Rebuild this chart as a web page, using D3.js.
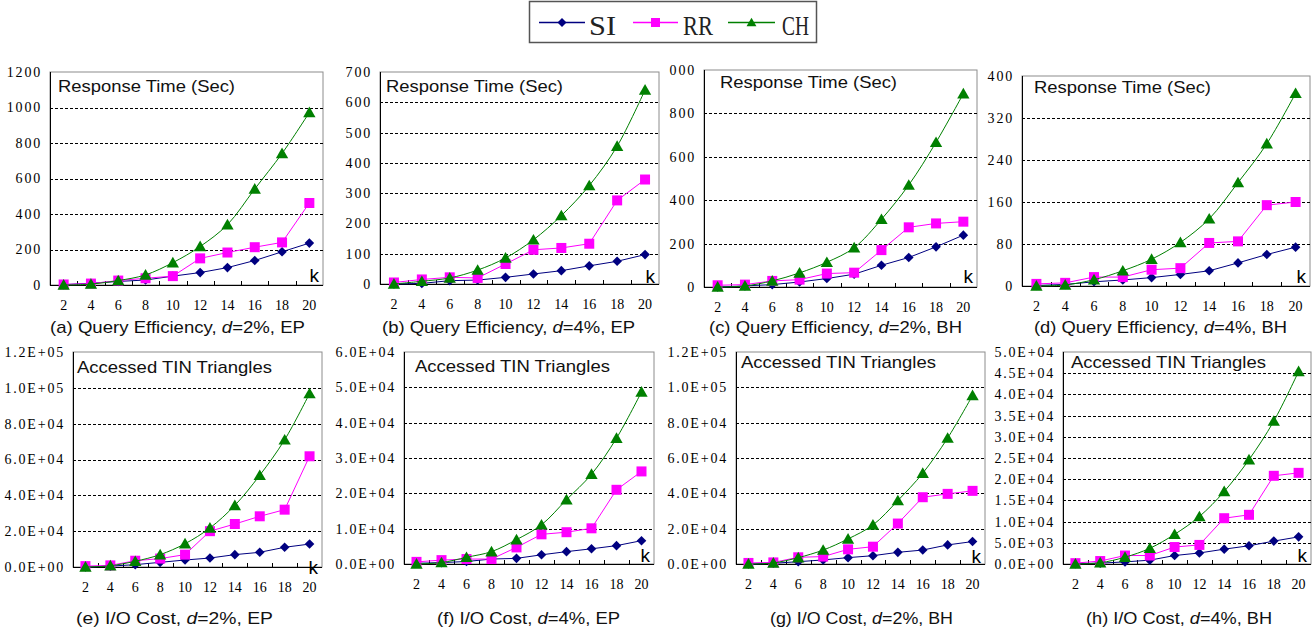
<!DOCTYPE html>
<html><head><meta charset="utf-8">
<script src="https://cdn.jsdelivr.net/npm/d3@7"></script>
<style>body{margin:0;background:#fff} svg{display:block}</style>
</head><body>
<script>
// ---------------- data ----------------
const ks = [2,4,6,8,10,12,14,16,18,20];
const seriesNames = ["SI","RR","CH"];

// (a) Query Efficiency, d=2%, EP
const aSI = [2,10,20,28,50,70,98,138,187,236];
const aRR = [3,8,25,38,50,150,183,213,240,462];
const aCH = [0,5,25,57,126,217,340,541,741,972];
const aTicks = [0,200,400,600,800,1000,1200];
// (b) Query Efficiency, d=4%, EP
const bSI = [0,2,11,13,22,33,44,60,75,97];
const bRR = [5,15,22,20,66,113,119,133,276,345];
const bCH = [0,9,20,46,86,146,226,325,455,641];
const bTicks = [0,100,200,300,400,500,600,700];
// (c) Query Efficiency, d=2%, BH
const cSI = [0,5,11,23,39,59,100,136,185,239];
const cRR = [8,11,28,34,62,66,170,275,293,301];
const cCH = [0,5,28,65,114,181,312,470,667,891];
const cTicks = [0,200,400,600,800,1000];
// (d) Query Efficiency, d=4%, BH
const dSI = [1,3,8,11.5,16,22,29,44,60,74];
const dRR = [4,6,17,17,31,34,82,85,154,160];
const dCH = [0,2,12,29,51,83,128,197,271,367];
const dTicks = [0,80,160,240,320,400];
// (e) I/O Cost, d=2%, EP
const eSI = [0,500,1300,2600,3900,5000,6900,8200,11000,12800];
const eRR = [500,900,3500,4700,6900,20000,24000,28300,32000,61800];
const eCH = [0,700,3200,6900,13000,21800,34400,51200,71000,96800];
const eTicks = [0,20000,40000,60000,80000,100000,120000];
// (f) I/O Cost, d=4%, EP
const fSI = [200,400,700,1400,1600,2600,3500,4300,5200,6600];
const fRR = [600,1100,1400,1400,4700,8400,9000,10100,21000,26200];
const fCH = [0,400,1900,3500,6900,11100,18200,25400,35600,48700];
const fTicks = [0,10000,20000,30000,40000,50000,60000];
// (g) I/O Cost, d=2%, BH
const gSI = [0,400,1300,2300,3600,4700,6600,7900,10800,12700];
const gRR = [600,900,3800,4200,8300,9800,22900,37800,39700,41400];
const gCH = [0,600,3600,7900,14200,22100,35900,51400,71300,95400];
const gTicks = [0,20000,40000,60000,80000,100000,120000];
// (h) I/O Cost, d=4%, BH
const hSI = [100,200,500,900,2000,2600,3500,4300,5400,6400];
const hRR = [200,700,2000,2000,4000,4500,10800,11600,20800,21500];
const hCH = [0,300,1600,3700,7000,11200,17100,24600,33700,45400];
const hTicks = [0,5000,10000,15000,20000,25000,30000,35000,40000,45000,50000];

const topTitle = "Response Time (Sec)";
const botTitle = "Accessed TIN Triangles";
const captionPre = ["(a) Query Efficiency, ","(b) Query Efficiency, ","(c) Query Efficiency, ","(d) Query Efficiency, ",
                    "(e) I/O Cost, ","(f) I/O Cost, ","(g) I/O Cost, ","(h) I/O Cost, "];
const captionPost = ["=2%, EP","=4%, EP","=2%, BH","=4%, BH","=2%, EP","=4%, EP","=2%, BH","=4%, BH"];

// ---------------- layout ----------------
const plain = v => String(v);
const sci = v => {
  if (v === 0) return "0.0E+00";
  const e = Math.floor(Math.log10(v) + 1e-9);
  const m = v / Math.pow(10, e);
  return m.toFixed(1) + "E+" + String(e).padStart(2, "0");
};
const panels = [
  {series:[aSI,aRR,aCH], ticks:aTicks, fmt:plain, l:50,  r:323,  t:72,  b:285, tx:58,   ty:92,  tl:177, cx:50,   cy:333, cl:255, kb:282},
  {series:[bSI,bRR,bCH], ticks:bTicks, fmt:plain, l:380, r:659,  t:72,  b:284, tx:386,  ty:92,  tl:177, cx:382,  cy:333, cl:253, kb:283},
  {series:[cSI,cRR,cCH], ticks:cTicks, fmt:plain, l:704, r:977,  t:70,  b:287, tx:720,  ty:88,  tl:177, cx:709,  cy:333, cl:253, kb:283, clip:668},
  {series:[dSI,dRR,dCH], ticks:dTicks, fmt:plain, l:1022,r:1310, t:76,  b:286, tx:1034, ty:93,  tl:177, cx:1034, cy:333, cl:253, kb:283},
  {series:[eSI,eRR,eCH], ticks:eTicks, fmt:sci,   l:73,  r:322,  t:352, b:567, tx:77,   ty:373, tl:195, cx:76,   cy:624, cl:197, kb:574},
  {series:[fSI,fRR,fCH], ticks:fTicks, fmt:sci,   l:404, r:654,  t:352, b:564, tx:415,  ty:372, tl:195, cx:437,  cy:624, cl:183, kb:562},
  {series:[gSI,gRR,gCH], ticks:gTicks, fmt:sci,   l:736, r:985,  t:352, b:564, tx:741,  ty:368, tl:195, cx:770,  cy:624, cl:183, kb:563},
  {series:[hSI,hRR,hCH], ticks:hTicks, fmt:sci,   l:1063,r:1311, t:352, b:564, tx:1071, ty:368, tl:195, cx:1086, cy:624, cl:186, kb:562},
];
const colors = {SI:"#000080", RR:"#ff00ff", CH:"#008000"};
const markerPath = {
  SI: s => `M0,${-s}L${s},0L0,${s}L${-s},0Z`,
  RR: s => `M${-s},${-s}H${s}V${s}H${-s}Z`,
  CH: s => `M0,${-s*1.05}L${s*1.1},${s*0.85}L${-s*1.1},${s*0.85}Z`
};
const markerSize = {SI:4.8, RR:5, CH:5.6};

const svg = d3.select("body").append("svg").attr("width",1315).attr("height",634);
const NUMFONT = "'Liberation Serif', 'DejaVu Serif', serif";
const SANS = "'Liberation Sans', Arial, sans-serif";

panels.forEach((p, pi) => {
  const g = svg.append("g");
  const x = d3.scaleBand().domain(ks).range([p.l, p.r]);
  const y = d3.scaleLinear().domain([0, p.ticks[p.ticks.length-1]]).range([p.b, p.t]);
  const bw = x.bandwidth();

  // plot area border (gray)
  g.append("rect").attr("x",p.l).attr("y",p.t).attr("width",p.r-p.l).attr("height",p.b-p.t)
    .attr("fill","none").attr("stroke","#8c8c8c").attr("stroke-width",1);

  // dashed gridlines
  g.selectAll("line.grid").data(p.ticks.slice(1,-1)).join("line").attr("class","grid")
    .attr("x1",p.l).attr("x2",p.r).attr("y1",d=>Math.round(y(d))+0.5).attr("y2",d=>Math.round(y(d))+0.5)
    .attr("stroke","#000").attr("stroke-width",1).attr("stroke-dasharray","3,2");

  // y axis
  const ya = g.append("g").attr("transform",`translate(${p.l},0)`)
    .call(d3.axisLeft(y).tickValues(p.ticks).tickSize(0).tickPadding(8).tickFormat(p.fmt));
  ya.select(".domain").remove();
  ya.selectAll("text").attr("font-family",NUMFONT).attr("font-size",14).attr("letter-spacing","1.8px").attr("fill","#000");
  if (p.clip) {
    const id = "clip"+pi;
    svg.append("clipPath").attr("id",id).append("rect").attr("x",p.clip - p.l).attr("y",0).attr("width",400).attr("height",634);
    ya.attr("clip-path",`url(#${id})`);
  }

  // x axis labels
  const xa = g.append("g").attr("transform",`translate(0,${p.b})`)
    .call(d3.axisBottom(x).tickSize(0).tickPadding(15));
  xa.select(".domain").remove();
  xa.selectAll("text").attr("font-family",NUMFONT).attr("font-size",14).attr("fill","#000");

  // inner tick marks at category boundaries
  g.selectAll("line.tk").data(ks.slice(1)).join("line").attr("class","tk")
    .attr("x1",d=>Math.round(x(d))+0.5).attr("x2",d=>Math.round(x(d))+0.5)
    .attr("y1",p.b).attr("y2",p.b-4).attr("stroke","#000");

  // axis lines
  g.append("line").attr("x1",p.l+0.5).attr("x2",p.l+0.5).attr("y1",p.t).attr("y2",p.b).attr("stroke","#000");
  g.append("line").attr("x1",p.l).attr("x2",p.r).attr("y1",p.b+0.5).attr("y2",p.b+0.5).attr("stroke","#000");

  // in-plot title
  g.append("text").attr("x",p.tx).attr("y",p.ty).text(pi<4?topTitle:botTitle)
    .attr("font-family",SANS).attr("font-size",17).attr("fill","#111")
    .attr("textLength",p.tl).attr("lengthAdjust","spacingAndGlyphs");

  // k label
  g.append("text").attr("x",p.r-4).attr("y",p.kb).attr("text-anchor","end").text("k")
    .attr("font-family",SANS).attr("font-size",19).attr("fill","#000");

  // series
  seriesNames.forEach((name, si) => {
    const vals = p.series[si];
    const line = d3.line().x((d,i)=>x(ks[i])+bw/2).y(d=>y(d))
      .curve(name==="CH" ? d3.curveCatmullRom : d3.curveLinear);
    g.append("path").attr("d",line(vals)).attr("fill","none").attr("stroke",colors[name]).attr("stroke-width",1);
    g.selectAll("path.m"+name).data(vals).join("path").attr("class","m"+name)
      .attr("transform",(d,i)=>`translate(${x(ks[i])+bw/2},${y(d)})`)
      .attr("d",markerPath[name](markerSize[name])).attr("fill",colors[name]);
  });

  // caption
  const cap = g.append("text").attr("x",p.cx).attr("y",p.cy)
    .attr("font-family",SANS).attr("font-size",17).attr("fill","#111")
    .attr("textLength",p.cl).attr("lengthAdjust","spacingAndGlyphs");
  cap.append("tspan").text(captionPre[pi]);
  cap.append("tspan").attr("font-style","italic").text("d");
  cap.append("tspan").text(captionPost[pi]);
});

// ---------------- legend ----------------
const lg = svg.append("g");
lg.append("rect").attr("x",529.5).attr("y",1.5).attr("width",287).attr("height",41)
  .attr("fill","#fff").attr("stroke","#555").attr("stroke-width",1.5);
const legItems = [
  {name:"SI", x1:539, x2:585, tx:589, tl:27},
  {name:"RR", x1:633, x2:678, tx:683, tl:30},
  {name:"CH", x1:728, x2:775, tx:782, tl:27},
];
legItems.forEach(it => {
  lg.append("line").attr("x1",it.x1).attr("x2",it.x2).attr("y1",22.5).attr("y2",22.5)
    .attr("stroke",colors[it.name]).attr("stroke-width",1.5);
  lg.append("path").attr("transform",`translate(${(it.x1+it.x2)/2},22.5)`)
    .attr("d",markerPath[it.name](4.5)).attr("fill",colors[it.name]);
  lg.append("text").attr("x",it.tx).attr("y",35).text(it.name)
    .attr("font-family",NUMFONT).attr("font-size",27).attr("fill","#222")
    .attr("textLength",it.tl).attr("lengthAdjust","spacingAndGlyphs");
});
</script>
</body></html>
